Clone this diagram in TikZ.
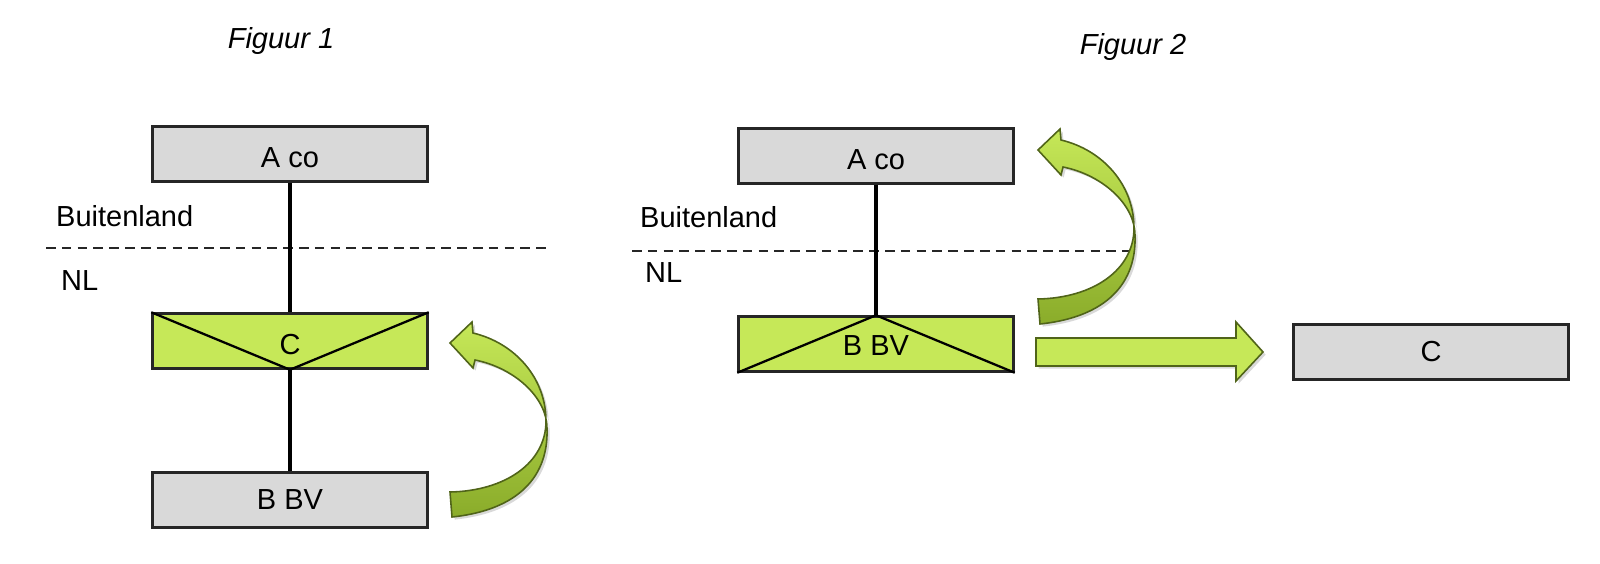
\documentclass[tikz,border=0pt]{standalone}
\usepackage{fontspec}
\setmainfont{Liberation Sans}
\usepackage{tikz}
\usetikzlibrary{shadows}
\definecolor{limoen}{RGB}{198,232,88}
\definecolor{olijf}{RGB}{138,172,42}
\definecolor{randgroen}{RGB}{80,100,25}
\definecolor{grijs}{RGB}{217,217,217}
\tikzstyle{blok}=[rectangle, draw=black!85, line width=1.4pt, fill=grijs, minimum width=5.5cm, minimum height=1.1cm, inner sep=0pt]
\tikzstyle{bochtpijl}=[draw=randgroen, line width=0.9pt, top color=limoen, bottom color=olijf, drop shadow={shadow xshift=1.5pt, shadow yshift=-1.5pt, opacity=0.3}]
\newcommand{\blok}{\node[blok]}
\newcommand{\bocht}[1]{\path[bochtpijl, shift={#1}] (0,149) -- (2,174) .. controls (60,168) and (99,140) .. (97,85) .. controls (97,55) and (65,25) .. (25,17) -- (23,25) -- (0,0) -- (22,-21) -- (23,-10) .. controls (65,0) and (96,35) .. (96,78) .. controls (96,120) and (55,148) .. (0,149) -- cycle;}

\begin{document}
\begin{tikzpicture}[x=0.02cm, y=-0.02cm, font=\fontsize{16.5pt}{20pt}\selectfont]
			\tikzstyle{groen}=[fill=limoen]
			\tikzstyle{lijn}=[draw=black, line width=2pt]
			\tikzstyle{grens}=[draw=black!85, line width=1.2pt, dash pattern=on 5.5pt off 3.5pt]
			\useasboundingbox (0,0) rectangle (1600,564);
			% Figuur 1
			\node (titel1) at (281,41) {\itshape Figuur 1};
			\blok (aco1) at (290,154) {};
			\node at ([yshift=-2pt]aco1) {A co};
			\blok[groen] (c1) at (290,341) {};
			\blok (bbv1) at (290,500) {B BV};
			\node[anchor=west] (buiten1) at (50,216) {Buitenland};
			\node[anchor=west] (nl1) at (55,281) {NL};
			\draw[grens] (46,248) -- (548,248);
			\draw[line width=1.3pt] (c1.north west) -- (c1.south) -- (c1.north east);
			\node at ([yshift=-2pt]c1) {C};
			\path
			(aco1) edge[lijn] (c1.north)
			(c1.south) edge[lijn] (bbv1)
			;
			\coordinate (punt1) at (450,343);
			\bocht{(punt1)}
			% Figuur 2
			\node (titel2) at (1133,47) {\itshape Figuur 2};
			\blok (aco2) at (876,156) {};
			\node at ([yshift=-2pt]aco2) {A co};
			\blok[groen] (bbv2) at (876,344) {};
			\blok (c2) at (1431,352) {C};
			\node[anchor=west] (buiten2) at (634,217) {Buitenland};
			\node[anchor=west] (nl2) at (639,273) {NL};
			\draw[grens] (632,251) -- (1133,251);
			\draw[line width=1.3pt] (bbv2.south west) -- (bbv2.north) -- (bbv2.south east);
			\node at ([yshift=-1pt]bbv2) {B BV};
			\path (aco2) edge[lijn] (bbv2.north);
			\coordinate (punt2) at (1038,150);
			\bocht{(punt2)}
			\path[draw=randgroen, line width=0.9pt, fill=limoen, drop shadow={shadow xshift=1.5pt, shadow yshift=-1.5pt, opacity=0.3}]
			(1036,338) -- (1236,338) -- (1236,322) -- (1263,352) -- (1236,381) -- (1236,366) -- (1036,366) -- cycle;
\end{tikzpicture}
\end{document}
